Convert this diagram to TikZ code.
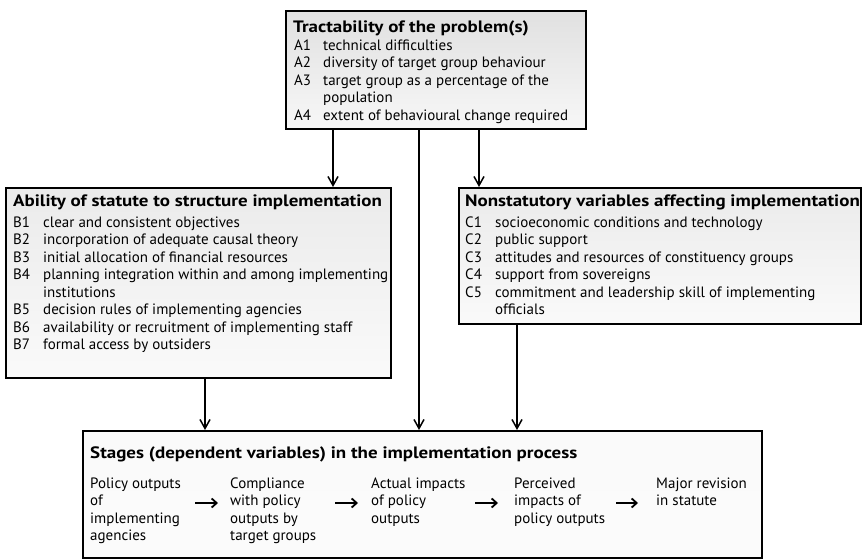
\documentclass[tikz,border=0pt]{standalone}
\usepackage{fontspec}
\setmainfont{PT Sans}
\newfontfamily\headfam[FakeStretch=1.15]{PT Sans}
\usetikzlibrary{arrows.meta}

\newcommand{\bodyfont}{\fontsize{15}{17.5}\selectfont}
\newcommand{\headfont}{\headfam\fontsize{16.5}{19}\selectfont\bfseries}

\tikzset{
  panel/.style={draw, line width=1.6pt, anchor=north west, inner sep=0pt,
    top color=gray!16, middle color=gray!40, bottom color=gray!4},
  head/.style={anchor=base west, inner sep=0pt, font=\headfont},
  items/.style={anchor=base west, inner sep=0pt, font=\bodyfont},
  flow/.style={line width=1.7pt, -{Straight Barb[length=9pt,width=10pt,line width=1.5pt]}},
  step arrow/.style={line width=2pt, -{Straight Barb[length=5pt,width=9pt,line width=1.8pt]}},
  stage/.style={anchor=base west, inner sep=0pt, font=\bodyfont, align=left}
}

\begin{document}
\begin{tikzpicture}[x=1pt,y=-1pt]
\useasboundingbox (0,0) rectangle (863,559);

% panels
\node[panel, minimum width=300pt, minimum height=118pt,
      top color=gray!24, middle color=gray!34, bottom color=gray!6] (A) at (285,10) {};
\node[panel, minimum width=385pt, minimum height=190pt] (B) at (5,187) {};
\node[panel, minimum width=402pt, minimum height=136pt] (C) at (458,187) {};
\node[panel, minimum width=679pt, minimum height=127pt,
      top color=gray!4, middle color=gray!18, bottom color=gray!3] (D) at (82,430) {};

% tractability
\node[head] (Ah) at (293,33) {Tractability of the problem(s)};
\node[items] (Al) at (294,50.5) {\begin{tabular}[t]{@{}p{29pt}@{}l@{}}
A1 & technical difficulties\\
A2 & diversity of target group behaviour\\
A3 & target group as a percentage of the\\
   & population\\
A4 & extent of behavioural change required
\end{tabular}};

% statute
\node[head] (Bh) at (13,207) {Ability of statute to structure implementation};
\node[items] (Bl) at (13,227.3) {\begin{tabular}[t]{@{}p{30pt}@{}l@{}}
B1 & clear and consistent objectives\\
B2 & incorporation of adequate causal theory\\
B3 & initial allocation of financial resources\\
B4 & planning integration within and among implementing\\
   & institutions\\
B5 & decision rules of implementing agencies\\
B6 & availability or recruitment of implementing staff\\
B7 & formal access by outsiders
\end{tabular}};

% nonstatutory
\node[head] (Ch) at (465,207) {Nonstatutory variables affecting implementation};
\node[items] (Cl) at (465,227.3) {\begin{tabular}[t]{@{}p{30pt}@{}l@{}}
C1 & socioeconomic conditions and technology\\
C2 & public support\\
C3 & attitudes and resources of constituency groups\\
C4 & support from sovereigns\\
C5 & commitment and leadership skill of implementing\\
   & officials
\end{tabular}};

% stages
\node[head] (Dh) at (90,458) {Stages (dependent variables) in the implementation process};
\node[stage] (s1) at (90,488) {\begin{tabular}[t]{@{}l@{}}Policy outputs\\of\\implementing\\agencies\end{tabular}};
\node[stage] (s2) at (230,488) {\begin{tabular}[t]{@{}l@{}}Compliance\\with policy\\outputs by\\target groups\end{tabular}};
\node[stage] (s3) at (371,488) {\begin{tabular}[t]{@{}l@{}}Actual impacts\\of policy\\outputs\end{tabular}};
\node[stage] (s4) at (514,488) {\begin{tabular}[t]{@{}l@{}}Perceived\\impacts of\\policy outputs\end{tabular}};
\node[stage] (s5) at (656,488) {\begin{tabular}[t]{@{}l@{}}Major revision\\in statute\end{tabular}};

% arrows between stages
\coordinate (t1) at (195,503); \coordinate (h1) at (218,503);
\coordinate (t2) at (335,503); \coordinate (h2) at (358,503);
\coordinate (t3) at (475,503); \coordinate (h3) at (498,503);
\coordinate (t4) at (616,503); \coordinate (h4) at (638,503);
\draw[step arrow] (t1) -- (h1);
\draw[step arrow] (t2) -- (h2);
\draw[step arrow] (t3) -- (h3);
\draw[step arrow] (t4) -- (h4);

% connectors between panels
\coordinate (xab) at (333,0);
\coordinate (xad) at (419,0);
\coordinate (xac) at (479,0);
\coordinate (xbd) at (205,0);
\coordinate (xcd) at (517,0);
\draw[flow] (A.south -| xab) -- (B.north -| xab);
\draw[flow] (A.south -| xad) -- (D.north -| xad);
\draw[flow] (A.south -| xac) -- (C.north -| xac);
\draw[flow] (B.south -| xbd) -- (D.north -| xbd);
\draw[flow] (C.south -| xcd) -- (D.north -| xcd);
\end{tikzpicture}
\end{document}
